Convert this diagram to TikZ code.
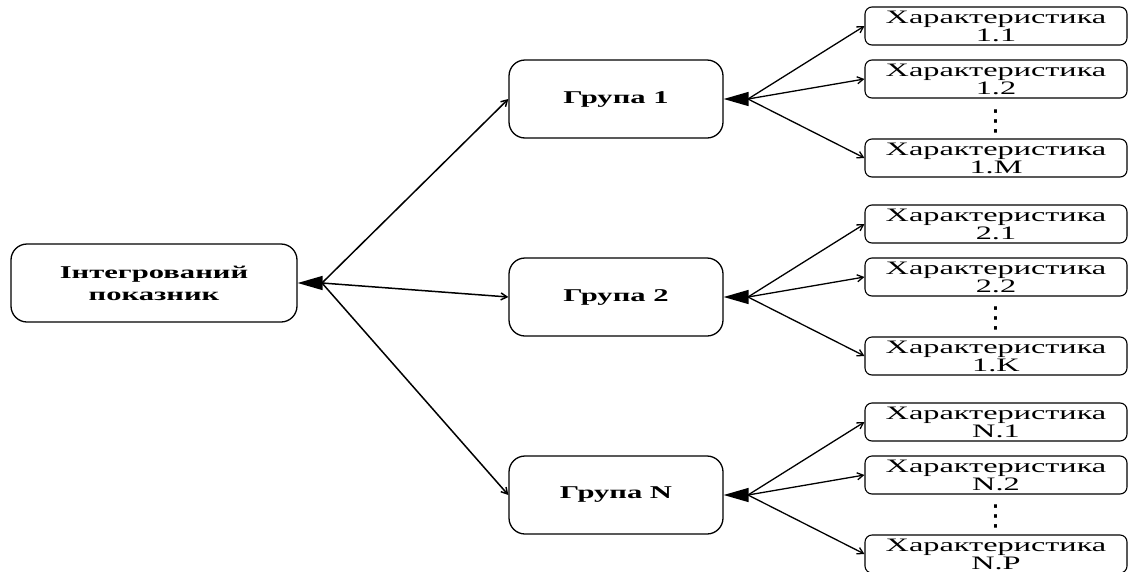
\documentclass[tikz,border=0pt]{standalone}
\usepackage{fontspec}
\setmainfont{Liberation Serif}[FakeStretch=1.7]
\newfontfamily\dotsfont{DejaVu Sans}
\usetikzlibrary{arrows.meta}

\begin{document}
\begin{tikzpicture}[x=1pt,y=-1pt,
  mainbox/.style={draw, line width=1.3pt, rounded corners=16pt,
    minimum width=214pt, minimum height=78pt, inner sep=0pt, align=center,
    font=\bfseries\fontsize{18}{22}\selectfont},
  charbox/.style={draw, line width=1.1pt, rounded corners=7pt,
    minimum width=262pt, minimum height=38pt, inner sep=0pt, align=center,
    font=\fontsize{19}{18}\selectfont},
  hubarrow/.style={line width=1.5pt, -{Triangle[length=25pt,width=14pt]}},
  grouplink/.style={line width=1.5pt, -{Straight Barb[length=6pt,width=7pt]}},
  charlink/.style={line width=1.3pt, -{Straight Barb[length=6pt,width=7pt]}},
  dotsnode/.style={inner sep=0pt, font=\dotsfont\fontsize{29}{29}\selectfont}
]
\useasboundingbox (0,0) rectangle (1130,571);

% root and groups
\node[mainbox, minimum width=286pt] (root) at (154,283) {Інтегрований\\показник};
\node[mainbox] (g1) at (616,99)  {Група 1};
\node[mainbox] (g2) at (616,297) {Група 2};
\node[mainbox] (gN) at (616,495) {Група N};

% characteristics
\node[charbox] (c11) at (996,26)  {Характеристика\\1.1};
\node[charbox] (c12) at (996,79)  {Характеристика\\1.2};
\node[dotsnode] (d1) at (996,121) {⋮};
\node[charbox] (c1M) at (996,158) {Характеристика\\1.M};

\node[charbox] (c21) at (996,224) {Характеристика\\2.1};
\node[charbox] (c22) at (996,277) {Характеристика\\2.2};
\node[dotsnode] (d2) at (996,318) {⋮};
\node[charbox] (c2K) at (996,356) {Характеристика\\1.K};

\node[charbox] (cN1) at (996,422) {Характеристика\\N.1};
\node[charbox] (cN2) at (996,475) {Характеристика\\N.2};
\node[dotsnode] (dN) at (996,516) {⋮};
\node[charbox] (cNP) at (996,554) {Характеристика\\N.P};

% branching points
\coordinate (h0) at (322,283);
\coordinate (h1) at (748,99);
\coordinate (h2) at (748,297);
\coordinate (hN) at (748,495);

% root branches
\draw[hubarrow] (h0) -- (root.east);
\draw[grouplink] (h0) -- (g1.west);
\draw[grouplink] (h0) -- (g2.west);
\draw[grouplink] (h0) -- (gN.west);

% group branches
\draw[hubarrow] (h1) -- (g1.east);
\draw[charlink] (h1) -- (c11.west);
\draw[charlink] (h1) -- (c12.west);
\draw[charlink] (h1) -- (c1M.west);

\draw[hubarrow] (h2) -- (g2.east);
\draw[charlink] (h2) -- (c21.west);
\draw[charlink] (h2) -- (c22.west);
\draw[charlink] (h2) -- (c2K.west);

\draw[hubarrow] (hN) -- (gN.east);
\draw[charlink] (hN) -- (cN1.west);
\draw[charlink] (hN) -- (cN2.west);
\draw[charlink] (hN) -- (cNP.west);
\end{tikzpicture}
\end{document}
